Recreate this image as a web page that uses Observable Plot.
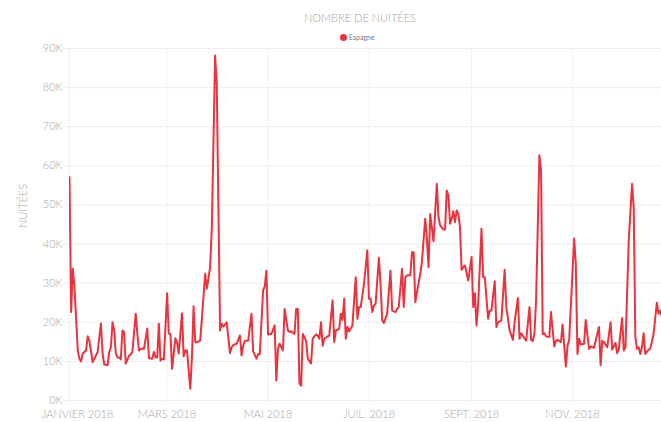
<!DOCTYPE html>
<html><head><meta charset="utf-8">
<script src="https://cdn.jsdelivr.net/npm/d3@7"></script>
<script src="https://cdn.jsdelivr.net/npm/@observablehq/plot@0.6"></script>
<style>
body{margin:0;background:#fff;overflow:hidden;font-family:Lato,"Open Sans",sans-serif;}
#wrap{position:relative;width:661px;height:422px;}
#title{position:absolute;top:11px;left:360px;transform:translateX(-50%);white-space:nowrap;font-size:11px;color:#a3a3a3;font-weight:300;}
#legend{position:absolute;top:33px;left:340px;font-size:7px;color:#777;display:flex;align-items:center;white-space:nowrap;}
#legend .dot{display:inline-block;width:7px;height:7px;border-radius:50%;background:#e8343f;margin-right:2px;}
#ylabel{position:absolute;left:22px;top:206px;transform:translate(-50%,-50%) rotate(-90deg);white-space:nowrap;font-size:11px;color:#a6a6a6;font-weight:300;}
#chart{position:absolute;top:0;left:0;}
</style></head>
<body>
<div id="wrap">
  <div id="chart"></div>
  <div id="title">NOMBRE DE NUITÉES</div>
  <div id="legend"><span class="dot"></span><span id="legtext"></span></div>
  <div id="ylabel">NUITÉES</div>
</div>
<script>
const seriesName = "Espagne";
const yTicks = [0,10000,20000,30000,40000,50000,60000,70000,80000,90000];
const yTickLabels = ["0K","10K","20K","30K","40K","50K","60K","70K","80K","90K"];
const xTickMonths = [0,2,4,6,8,10];
const xTickLabels = ["JANVIER 2018","MARS 2018","MAI 2018","JUIL. 2018","SEPT. 2018","NOV. 2018"];
// day of year (0 = 1 Jan 2018)
const days = [0,1,2,3,5,6,7,8,10,11,12,14,15,16,17,19,20,21,23,24,25,26,27,28,29,30,31,32,33,34,36,37,38,40,41,42,44,45,47,48,50,51,52,53,54,55,56,57,59,60,61,62,64,65,66,68,69,70,71,73,74,75,76,77,79,80,82,83,85,86,88,89,90,91,92,93,95,97,98,99,101,103,104,105,106,108,110,111,113,114,115,117,118,119,120,121,122,124,125,126,127,129,130,132,133,134,136,137,138,139,140,141,143,144,146,147,149,150,151,152,153,154,156,157,159,160,161,163,164,165,166,167,168,169,171,173,174,175,176,178,180,181,182,183,184,185,187,188,189,190,192,194,195,197,198,199,201,202,203,204,206,207,208,209,210,212,213,215,216,217,218,220,222,223,224,226,227,228,229,230,231,232,233,234,235,236,237,238,239,241,243,244,245,246,247,249,250,251,253,254,255,257,258,259,261,263,264,266,268,269,271,272,273,275,276,278,279,280,281,282,284,285,286,287,288,290,291,293,294,295,297,298,300,301,302,305,306,307,308,309,311,312,314,315,317,320,321,322,323,325,327,328,330,331,332,334,335,336,338,340,341,342,343,344,345,346,347,348,350,351,353,355,356,357,358];
const values = [57100,22600,33700,29000,12800,10700,10000,12000,12800,16400,15300,9800,10700,11500,12400,19700,12000,9200,9000,12400,13600,20000,18000,12000,11000,11000,10500,17900,17500,9400,11500,11800,12400,22200,17000,12800,13300,13200,18400,10800,10700,12400,11000,11000,19600,10200,10700,10500,27400,17100,17000,8100,15900,14900,12000,22300,11300,12800,12800,3000,11000,24100,14900,14900,15300,20900,32400,28600,34000,44000,88200,81000,49400,17900,19600,18900,20000,12100,13600,14200,14500,16600,11500,14000,15300,15300,22200,12600,10700,11900,11800,28100,29200,33200,16900,17000,17000,19200,5100,13200,14500,12800,23400,17900,17500,17700,17000,23400,23400,4300,3800,17000,15300,10700,9500,15800,16900,16600,15800,20000,14000,15800,16400,16600,25600,14900,17900,18300,22200,20600,26000,15800,18800,17700,19200,31500,20900,23900,23900,29800,38400,26000,26000,22600,24300,24700,36500,29800,20500,19800,22200,33200,23000,22600,23400,23900,33700,23900,31500,32000,32000,37900,37900,25100,27700,32400,35400,46500,41400,34100,47700,40700,55400,46900,44800,43700,43700,53700,52400,45200,46500,48400,45600,48600,47700,44300,33400,34100,34500,30700,36700,23900,27400,19200,24700,43900,31500,31500,20900,23000,23000,30500,18800,20000,20500,33400,23900,18000,15500,20000,26200,15800,17200,15900,15300,23900,15500,15200,17000,25600,62700,58800,17000,17200,16400,16200,22600,13800,15300,15500,14900,19400,8700,14000,15500,41400,35000,11900,15800,14300,14500,20600,13200,13800,13500,18800,9000,15300,14900,13600,20000,13000,14700,12100,13200,21100,12800,13600,40900,55400,49400,16200,13200,13600,11900,13600,17200,11900,13000,13200,17000,25000,22200,23000,21500];

document.getElementById("legtext").textContent = seriesName;
const DAY = 864e5;
const start = new Date(Date.UTC(2018,0,1));
const end = new Date(start.getTime() + 357.8*DAY);
const data = days.map((d,i)=>({date:new Date(start.getTime()+d*DAY), value:values[i]}));
const tickDates = xTickMonths.map(m=>new Date(Date.UTC(2018,m,1)));
const xfmt = d => xTickLabels[tickDates.findIndex(t=>+t===+d)];
const font = 'Lato, "Open Sans", sans-serif';
const chart = Plot.plot({
  width:661, height:422,
  marginTop:48, marginBottom:22, marginLeft:69, marginRight:0,
  style:{fontFamily:font, fontSize:"11px", color:"#a6a6a6", background:"transparent", fontWeight:300},
  x:{type:"utc", domain:[start,end]},
  y:{domain:[0,90000]},
  marks:[
    Plot.gridY(yTicks,{stroke:"#ececec", strokeOpacity:1, insetLeft:-6}),
    Plot.gridX(tickDates,{stroke:"#f1f1f1", strokeOpacity:1, insetBottom:-3}),
    Plot.axisY(yTicks,{tickSize:0, tickPadding:7, tickFormat:d=>yTickLabels[yTicks.indexOf(d)], label:null, fill:"#a6a6a6"}),
    Plot.axisX(tickDates.slice(1),{tickSize:0, tickPadding:10, tickFormat:xfmt, label:null, fill:"#a6a6a6"}),
    Plot.axisX([tickDates[0]],{tickSize:0, tickPadding:10, tickFormat:xfmt, label:null, dx:8, fill:"#a6a6a6"}),
    Plot.lineY(data,{x:"date", y:"value", stroke:"#e8343f", strokeWidth:2, clip:true})
  ]
});
document.getElementById("chart").appendChild(chart);
</script>
</body></html>
